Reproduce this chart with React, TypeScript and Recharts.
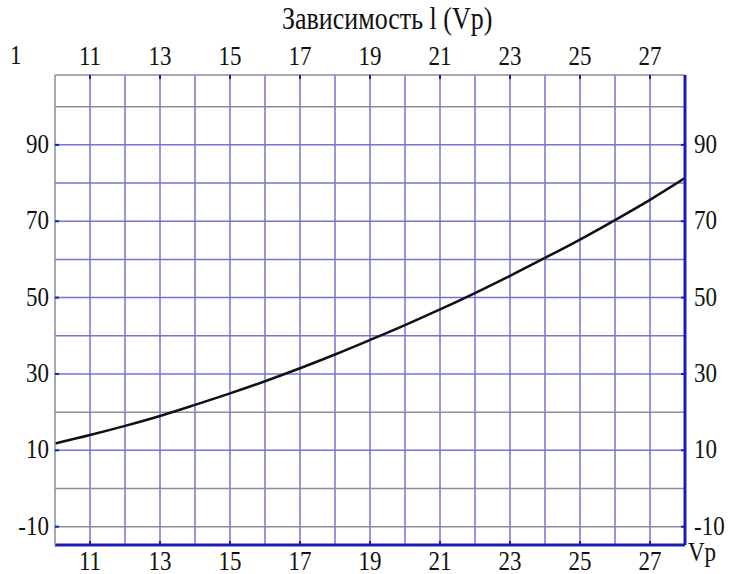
import { LineChart, Line, XAxis, YAxis, ReferenceLine } from 'recharts'

// l as a function of Vp
const vp = [10, 11, 12, 13, 14, 15, 16, 17, 18, 19, 20, 21, 22, 23, 24, 25, 26, 27, 28]
const lValues = [11.8, 14.0, 16.4, 19.0, 21.9, 24.9, 28.1, 31.5, 35.1, 38.9, 42.8, 46.9, 51.2, 55.7, 60.4, 65.2, 70.3, 75.6, 81.3]

const xTicks = [11, 13, 15, 17, 19, 21, 23, 25, 27]
const yTicks = [-10, 10, 30, 50, 70, 90]
const gridX = [11, 12, 13, 14, 15, 16, 17, 18, 19, 20, 21, 22, 23, 24, 25, 26, 27]
const gridY = [-10, 0, 10, 20, 30, 40, 50, 60, 70, 80, 90, 100]
const greyRows = [-10, 0, 20, 100]

const title = 'Зависимость l (Vp)'
const yName = '1'
const xName = 'Vp'

const data = vp.map((x, i) => ({ x, l: lValues[i] }))

const FONT = '"Liberation Serif", "DejaVu Serif", serif'
const BLUE = '#1c1cb4'
const GRID_BLUE = '#7474d2'
const GRID_GREY = '#8c8c9c'
const STRETCH = 1.2

// text drawn a bit taller than wide, like the original scan
function Txt({ x, y, anchor, children }: any) {
  return (
    <text transform={`translate(${x},${y}) scale(1,${STRETCH})`} textAnchor={anchor}
      style={{ fontFamily: FONT, fontSize: 23, fill: '#111' }}>{children}</text>
  )
}

function Tick(props: any) {
  const { x, y, payload, side } = props
  const v = payload.value
  if (side === 'bottom')
    return (
      <g>
        <line x1={x} y1={y} x2={x} y2={y - 4} stroke={BLUE} strokeWidth={2} />
        <Txt x={x} y={y + 25} anchor="middle">{v}</Txt>
      </g>
    )
  if (side === 'top')
    return (
      <g>
        <line x1={x} y1={y} x2={x} y2={y + 4} stroke={BLUE} strokeWidth={2} />
        <Txt x={x} y={y - 10} anchor="middle">{v}</Txt>
      </g>
    )
  if (side === 'left')
    return (
      <g>
        <line x1={x} y1={y} x2={x + 4} y2={y} stroke={BLUE} strokeWidth={2} />
        <Txt x={x - 6} y={y + 8} anchor="end">{v}</Txt>
      </g>
    )
  return (
    <g>
      <line x1={x} y1={y} x2={x - 4} y2={y} stroke={BLUE} strokeWidth={2} />
      <Txt x={x + 9} y={y + 8} anchor="start">{v}</Txt>
    </g>
  )
}

const divText = { position: 'absolute' as const, color: '#111', whiteSpace: 'nowrap' as const, transform: `scaleY(${STRETCH})`, transformOrigin: 'left bottom', lineHeight: 1 }

export default function App() {
  const yDomain = [-14.8, 108.3]
  return (
    <div style={{ position: 'absolute', left: 0, top: 0, width: 729, height: 574, background: '#fff', fontFamily: FONT }}>
      <div style={{ ...divText, left: 282, top: 9, fontSize: 26 }}>{title}</div>
      <div style={{ ...divText, left: 10, top: 46, fontSize: 23 }}>{yName}</div>
      <div style={{ ...divText, left: 688, top: 543, fontSize: 23 }}>{xName}</div>
      <LineChart width={729} height={574} data={data} margin={{ top: 74, right: 43, bottom: 28, left: 54 }}>
        <XAxis xAxisId="b" dataKey="x" type="number" domain={[10, 28]} ticks={xTicks} orientation="bottom" height={1}
          axisLine={{ stroke: BLUE, strokeWidth: 3 }} tickLine={false} tickSize={0} tickMargin={0} interval={0}
          allowDataOverflow tick={<Tick side="bottom" />} />
        <XAxis xAxisId="t" dataKey="x" type="number" domain={[10, 28]} ticks={xTicks} orientation="top" height={1}
          axisLine={{ stroke: GRID_GREY, strokeWidth: 1.5 }} tickLine={false} tickSize={0} tickMargin={0} interval={0}
          allowDataOverflow tick={<Tick side="top" />} />
        <YAxis yAxisId="l" type="number" domain={yDomain} ticks={yTicks} orientation="left" width={1}
          axisLine={{ stroke: GRID_GREY, strokeWidth: 1.5 }} tickLine={false} tickSize={0} tickMargin={0} interval={0}
          allowDataOverflow tick={<Tick side="left" />} />
        <YAxis yAxisId="r" type="number" domain={yDomain} ticks={yTicks} orientation="right" width={1}
          axisLine={{ stroke: BLUE, strokeWidth: 3 }} tickLine={false} tickSize={0} tickMargin={0} interval={0}
          allowDataOverflow tick={<Tick side="right" />} />
        {gridX.map((g) => (
          <ReferenceLine key={'gx' + g} xAxisId="b" yAxisId="l" x={g} stroke={GRID_BLUE} strokeWidth={1.5} />
        ))}
        {gridY.map((g) => (
          <ReferenceLine key={'gy' + g} xAxisId="b" yAxisId="l" y={g}
            stroke={greyRows.includes(g) ? GRID_GREY : GRID_BLUE} strokeWidth={1.5} />
        ))}
        <Line xAxisId="b" yAxisId="l" type="monotone" dataKey="l" stroke="#111" strokeWidth={2.5} dot={false} isAnimationActive={false} />
      </LineChart>
    </div>
  )
}
